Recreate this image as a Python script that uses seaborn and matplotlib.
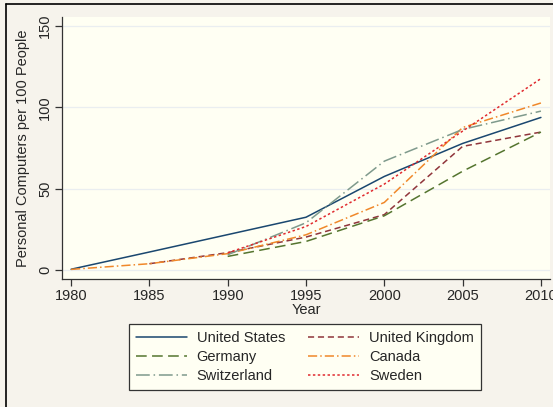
import matplotlib
matplotlib.use("Agg")
import matplotlib.pyplot as plt
from matplotlib.lines import Line2D
import seaborn as sns
import pandas as pd

# Personal computers per 100 people, by country
us_years = [1980, 1985, 1990, 1995, 2000, 2005, 2010]
us_vals = [0.4, 11.0, 21.7, 32.4, 57.5, 77.8, 93.8]

uk_years = [1985, 1990, 1995, 2000, 2005, 2010]
uk_vals = [3.8, 10.6, 20.2, 34.0, 76.0, 84.8]

de_years = [1990, 1995, 2000, 2005, 2010]
de_vals = [8.3, 17.5, 33.3, 60.7, 84.8]

ca_years = [1980, 1985, 1990, 1995, 2000, 2005, 2010]
ca_vals = [0.3, 3.8, 10.0, 21.6, 41.5, 87.6, 102.7]

ch_years = [1990, 1995, 2000, 2005, 2010]
ch_vals = [9.3, 29.0, 66.9, 86.4, 97.7]

se_years = [1990, 1995, 2000, 2005, 2010]
se_vals = [10.5, 26.7, 52.8, 85.4, 117.7]

countries = ["United States", "United Kingdom", "Germany", "Canada",
             "Switzerland", "Sweden"]
series = [(us_years, us_vals), (uk_years, uk_vals), (de_years, de_vals),
          (ca_years, ca_vals), (ch_years, ch_vals), (se_years, se_vals)]

x_ticks = [1980, 1985, 1990, 1995, 2000, 2005, 2010]
y_ticks = [0, 50, 100, 150]

rows = []
for name, (yrs, vals) in zip(countries, series):
    for yr, v in zip(yrs, vals):
        rows.append({"Year": yr, "PCs": v, "Country": name})
df = pd.DataFrame(rows)

palette = {
    "United States": "#1a476f",
    "United Kingdom": "#90353b",
    "Germany": "#55752f",
    "Canada": "#f0882a",
    "Switzerland": "#7f9a8c",
    "Sweden": "#e02a2e",
}
dashes = {
    "United States": "",
    "United Kingdom": (4, 2.5),
    "Germany": (7, 3.5),
    "Canada": (6, 2, 1, 2),
    "Switzerland": (9, 2.5, 1, 2.5),
    "Sweden": (1.6, 1.6),
}

sns.set_style("white")
plt.rcParams["font.family"] = ["Liberation Sans", "DejaVu Sans"]

outer_bg = "#f6f3ec"
plot_bg = "#fffff3"

fig = plt.figure(figsize=(5.53, 4.07), dpi=100, facecolor=outer_bg)
ax = fig.add_axes([62 / 553, 1 - 279 / 407, (550 - 62) / 553, (279 - 17) / 407])
ax.set_facecolor(plot_bg)

for y in y_ticks:
    ax.axhline(y, color="#eaeef0", lw=0.9, zorder=0)

sns.lineplot(data=df, x="Year", y="PCs", hue="Country", style="Country",
             hue_order=countries, style_order=countries,
             palette=palette, dashes=dashes, linewidth=1.1, ax=ax,
             legend=False)

ax.set_xlim(1979.42, 2010.58)
ax.set_ylim(-5.6, 155.6)
ax.set_xticks(x_ticks)
ax.set_yticks(y_ticks)
ax.set_yticklabels([str(t) for t in y_ticks], rotation=90, va="center")
ax.tick_params(axis="both", direction="out", length=5, width=0.9,
               color="#333333", labelsize=10.5, pad=2, left=True, bottom=True)
ax.set_xlabel("Year", fontsize=10.5, labelpad=0)
ax.set_ylabel("Personal Computers per 100 People", fontsize=10.5, labelpad=6)

for side in ["top", "right"]:
    ax.spines[side].set_visible(False)
for side in ["left", "bottom"]:
    ax.spines[side].set_color("#333333")
    ax.spines[side].set_linewidth(0.9)

# Legend below the plot, two columns
handles = [Line2D([0], [0], color=palette[c], lw=1.1,
                  dashes=dashes[c] if dashes[c] else (None, None),
                  linestyle="-")
           for c in countries]
order = [0, 2, 4, 1, 3, 5]
leg = fig.legend([handles[i] for i in order], [countries[i] for i in order],
                 ncol=2, loc="lower center",
                 bbox_to_anchor=(305 / 553, 1 - 390 / 407),
                 frameon=True, fancybox=False, fontsize=10.5,
                 handlelength=3.5, columnspacing=1.6, handletextpad=0.65,
                 labelspacing=0.34, borderpad=0.5, borderaxespad=0,
                 facecolor=plot_bg, edgecolor="#333333", framealpha=1)
leg.get_frame().set_linewidth(0.9)

# Outer frame lines on the top and left edges
fig.add_artist(Line2D([6 / 553, 6 / 553], [0, 1 - 4 / 407],
                      transform=fig.transFigure, color="black", lw=1.2))
fig.add_artist(Line2D([6 / 553, 1], [1 - 4 / 407, 1 - 4 / 407],
                      transform=fig.transFigure, color="black", lw=1.2))

fig.savefig("out.png", dpi=100, facecolor=outer_bg)
